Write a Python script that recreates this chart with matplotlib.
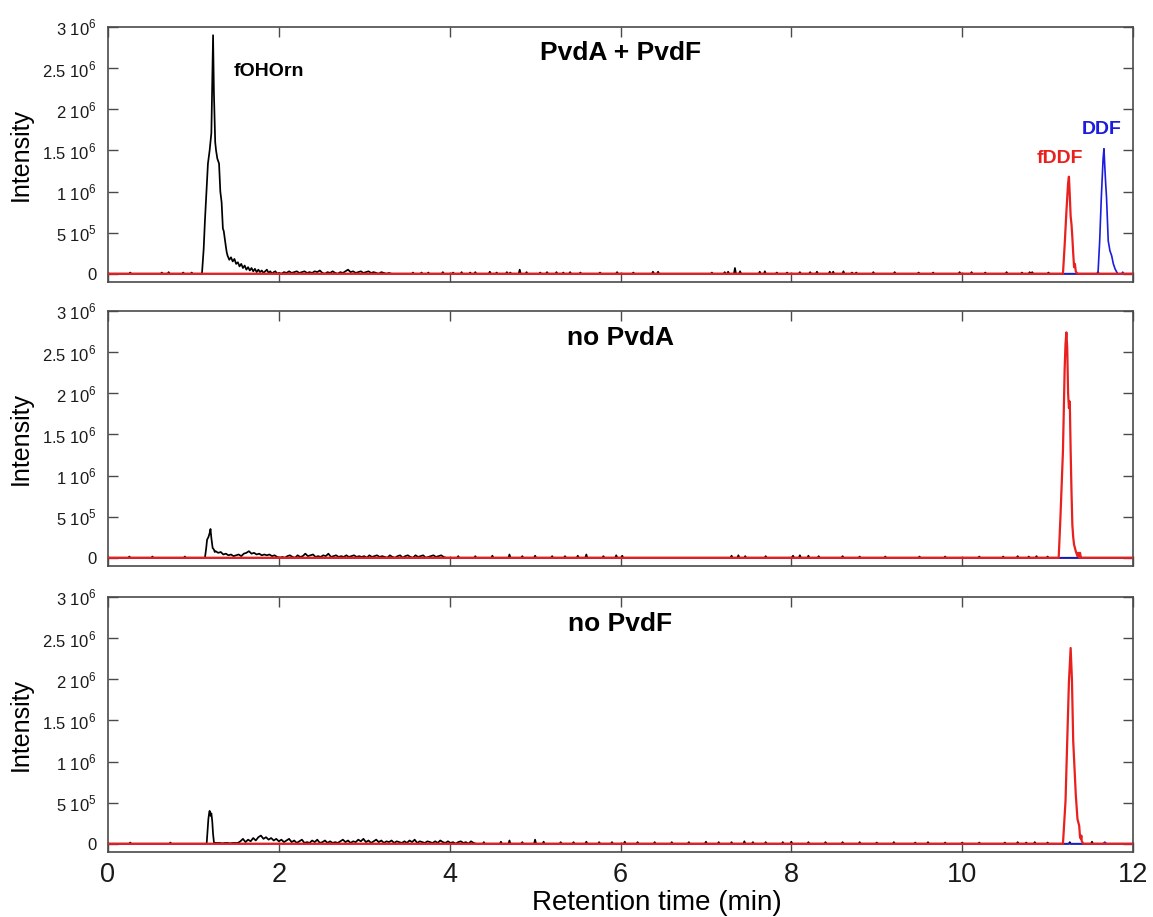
import numpy as np
import matplotlib
matplotlib.use("Agg")
import matplotlib.pyplot as plt

plt.rcParams['font.family'] = ['Liberation Sans', 'DejaVu Sans']
plt.rcParams['mathtext.fontset'] = 'custom'
plt.rcParams['mathtext.rm'] = 'Liberation Sans'

UNIT = 1e4  # intensity arrays below are in units of 1e4 counts

panel_titles = ["PvdA + PvdF", "no PvdA", "no PvdF"]
xticks = [0, 2, 4, 6, 8, 10, 12]
yticks = [0, 5e5, 1e6, 1.5e6, 2e6, 2.5e6, 3e6]
ytick_labels = ["0", r"5 10$^{\mathregular{5}}$", r"1 10$^{\mathregular{6}}$",
                r"1.5 10$^{\mathregular{6}}$", r"2 10$^{\mathregular{6}}$",
                r"2.5 10$^{\mathregular{6}}$", r"3 10$^{\mathregular{6}}$"]

# ---------------- Panel 1: PvdA + PvdF ----------------
p1_black_peak_t = [1.08, 1.10, 1.12, 1.135, 1.15, 1.17, 1.19, 1.21, 1.22, 1.23, 1.24,
                   1.255, 1.265, 1.28, 1.30, 1.315, 1.33, 1.345, 1.355, 1.37, 1.38, 1.39]
p1_black_peak_i = [0, 0, 30, 65, 95, 134, 150, 171, 230, 290, 220,
                   160, 150, 140, 134, 100, 87, 55, 52, 40, 33, 26]
p1_noise_start, p1_noise_step = 1.40, 0.02
p1_noise_i = [22, 17, 20, 15, 18, 12, 14, 9, 12, 7, 10, 5, 8, 4, 7, 3, 6, 2, 5, 2,
              4, 1, 3, 5, 1, 3, 0, 2, 3, 0]
p1_noise2_start, p1_noise2_step = 2.00, 0.03
p1_noise2_i = [1, 0, 2, 1, 3, 1, 2, 3, 1, 2, 3, 1, 2, 1, 3, 2, 4, 1, 0, 2, 1, 3, 1, 0,
               2, 1, 3, 5, 2, 3, 1, 2, 3, 1, 2, 3, 1, 2, 1, 0, 2, 1, 0, 1, 0]
p1_spike_t = [0.26, 0.63, 0.71, 0.88, 0.98, 3.57, 3.67, 3.75, 3.92, 4.04, 4.14, 4.24,
              4.30, 4.47, 4.55, 4.67, 4.71, 4.82, 4.90, 5.06, 5.14, 5.25, 5.33, 5.41,
              5.53, 5.76, 5.96, 6.15, 6.38, 6.44, 7.07, 7.22, 7.26, 7.34, 7.40, 7.63,
              7.69, 7.83, 7.95, 8.10, 8.22, 8.30, 8.45, 8.49, 8.61, 8.71, 8.76, 8.96,
              9.21, 9.49, 9.66, 9.97, 10.11, 10.27, 10.52, 10.70, 10.79, 10.82, 11.01, 11.59]
p1_spike_i = [1.5, 1.5, 2, 1.5, 1.5, 1.5, 1.5, 1.5, 2, 1.5, 2, 1.5,
              2, 2.5, 1.5, 2, 1.5, 5, 2, 1.5, 2, 2, 1.5, 2,
              1.5, 1.5, 2, 1.5, 2.5, 2.5, 1.5, 2, 2.5, 7, 3, 2.5,
              3, 1.5, 1.5, 2, 2, 2.5, 2.5, 2.5, 3, 1.5, 1.5, 2,
              2, 1.5, 1.5, 2, 2, 1.5, 2, 1.5, 2, 2, 1.5, 2]
p1_red_t = [0, 11.18, 11.20, 11.22, 11.24, 11.25, 11.26, 11.27, 11.28, 11.29, 11.30,
            11.31, 11.32, 11.33, 11.34, 11.36, 12]
p1_red_i = [0, 0, 35, 75, 110, 118, 95, 70, 60, 44, 25, 8, 12, 3, 1, 0, 0]
p1_blue_t = [0, 11.59, 11.61, 11.63, 11.65, 11.66, 11.67, 11.68, 11.69, 11.71, 11.73,
             11.75, 11.77, 11.79, 11.81, 11.82, 11.87, 11.88, 11.89, 12]
p1_blue_i = [0, 0, 40, 95, 140, 152, 130, 110, 93, 40, 28, 22, 12, 6, 2, 0, 0, 2, 0, 0]

# ---------------- Panel 2: no PvdA ----------------
p2_black_peak_t = [1.12, 1.135, 1.15, 1.16, 1.175, 1.19, 1.20, 1.21, 1.225, 1.24, 1.25]
p2_black_peak_i = [0, 0, 12, 22, 25, 30, 35, 24, 12, 10, 7]
p2_noise_start, p2_noise_step = 1.26, 0.03
p2_noise_i = [8, 6, 7, 4, 5, 3, 4, 2, 3, 4, 2, 5, 6, 8, 5, 6, 4, 5, 3, 4, 3, 4, 2, 3, 1,
              0, 1, 0, 2, 3, 1, 0, 3, 1, 2, 5, 2, 3, 4, 1, 2, 1, 3, 2, 5, 1, 2, 3, 1, 2,
              1, 3, 1, 2, 3, 1, 2, 1, 2, 0, 3, 1, 2, 3, 1, 2, 1, 0, 3, 1, 0, 2, 3, 0, 2,
              3, 1, 0, 3, 1, 2, 3, 0, 1, 2, 3, 1, 2, 3, 1, 0]
p2_spike_t = [0.25, 0.52, 0.90, 4.10, 4.30, 4.50, 4.70, 4.85, 5.00, 5.20, 5.35, 5.50,
              5.60, 5.80, 5.95, 6.02, 7.30, 7.38, 7.46, 7.70, 8.02, 8.10, 8.20, 8.32,
              8.60, 8.80, 9.10, 9.50, 9.80, 10.20, 10.48, 10.65, 10.78, 10.87, 11.00]
p2_spike_i = [1.5, 1.5, 1.5, 2, 2, 2.5, 4, 2, 2.5, 2, 2, 2.5,
              4, 2, 3, 2.5, 2.5, 3, 2, 2, 2.5, 3, 2.5, 2,
              2, 1.5, 1.5, 1.5, 1.5, 1.5, 1.5, 2, 1.5, 2, 1.5]
p2_red_t = [0, 11.13, 11.15, 11.18, 11.20, 11.21, 11.22, 11.23, 11.24, 11.25, 11.26,
            11.27, 11.28, 11.29, 11.30, 11.31, 11.32, 11.33, 11.34, 11.35, 11.36, 11.37,
            11.38, 11.39, 11.40, 12]
p2_red_i = [0, 0, 48, 130, 230, 260, 274, 255, 200, 182, 190,
            130, 80, 40, 25, 16, 12, 8, 5, 2, 6, 0,
            6, 0, 0, 0]
p2_blue_t = [0, 12]
p2_blue_i = [0, 0]

# ---------------- Panel 3: no PvdF ----------------
p3_black_peak_t = [1.14, 1.155, 1.165, 1.175, 1.185, 1.19, 1.20, 1.21, 1.22, 1.23, 1.24, 1.25]
p3_black_peak_i = [0, 0, 15, 30, 38, 40, 34, 37, 28, 12, 2, 0]
p3_noise_start, p3_noise_step = 1.25, 0.03
p3_noise_i = [1, 1, 1, 0.5, 1, 1, 0.5, 1, 1, 1, 3, 6, 2, 5, 3, 7, 4, 8, 10, 6,
              8, 5, 7, 4, 6, 3, 5, 2, 4, 6, 2, 4, 1, 3, 5, 1, 2, 1, 4, 2,
              5, 1, 2, 4, 1, 3, 1, 2, 1, 3, 5, 2, 4, 1, 3, 2, 5, 3, 6, 2,
              4, 1, 3, 5, 2, 4, 1, 3, 2, 4, 1, 3, 2, 1, 3, 1, 4, 2, 5, 1,
              3, 2, 1, 3, 2, 1, 3, 1, 4, 2, 1, 3, 1, 2, 0, 2, 3, 1, 2, 0,
              3, 1, 0]
p3_spike_t = [0.26, 0.73, 4.40, 4.60, 4.70, 4.85, 5.00, 5.10, 5.30, 5.45, 5.60, 5.75,
              5.90, 6.05, 6.20, 6.40, 6.60, 6.80, 7.00, 7.15, 7.30, 7.45, 7.55, 7.70,
              7.90, 8.00, 8.20, 8.40, 8.60, 8.80, 9.00, 9.20, 9.45, 9.60, 9.80, 10.00,
              10.20, 10.50, 10.65, 10.75, 10.85, 11.00, 11.26, 11.52]
p3_spike_i = [1.5, 1.5, 2, 2.5, 4, 2, 5, 2.5, 2, 2, 2.5, 2,
              2, 2.5, 2, 2, 2, 2, 2.5, 2, 2, 3, 2, 2,
              2, 2.5, 2, 2, 2, 2, 1.5, 2, 1.5, 2, 1.5, 1.5,
              1.5, 1.5, 2, 1.5, 2, 1.5, 2, 2.5]
p3_red_t = [0, 11.18, 11.21, 11.23, 11.25, 11.27, 11.285, 11.30, 11.33, 11.35, 11.37,
            11.38, 11.39, 11.395, 11.40, 11.42, 12]
p3_red_i = [0, 0, 52, 125, 197, 238, 200, 125, 60, 30, 22, 8, 6, 10, 3, 0, 0]
p3_blue_t = [0, 11.65, 11.67, 11.69, 12]
p3_blue_i = [0, 0, 2, 0, 0]

panels = [
    dict(peak=(p1_black_peak_t, p1_black_peak_i),
         noise=[(p1_noise_start, p1_noise_step, p1_noise_i), (p1_noise2_start, p1_noise2_step, p1_noise2_i)],
         spikes=(p1_spike_t, p1_spike_i), red=(p1_red_t, p1_red_i), blue=(p1_blue_t, p1_blue_i)),
    dict(peak=(p2_black_peak_t, p2_black_peak_i),
         noise=[(p2_noise_start, p2_noise_step, p2_noise_i)],
         spikes=(p2_spike_t, p2_spike_i), red=(p2_red_t, p2_red_i), blue=(p2_blue_t, p2_blue_i)),
    dict(peak=(p3_black_peak_t, p3_black_peak_i),
         noise=[(p3_noise_start, p3_noise_step, p3_noise_i)],
         spikes=(p3_spike_t, p3_spike_i), red=(p3_red_t, p3_red_i), blue=(p3_blue_t, p3_blue_i)),
]


def black_trace(p):
    ts = [0.0, 12.0]
    vs = [0.0, 0.0]
    ts += list(p['peak'][0]); vs += list(p['peak'][1])
    for start, step, vals in p['noise']:
        ts += list(start + step * np.arange(len(vals)))
        vs += list(vals)
    w = 0.012
    for t, h in zip(*p['spikes']):
        ts += [t - w, t, t + w]
        vs += [0, h, 0]
    order = np.argsort(ts, kind='stable')
    return np.asarray(ts)[order], np.asarray(vs, dtype=float)[order] * UNIT


RED = '#e8201e'
BLUE = '#1c1ce0'
SPINE = '#4a4a4a'

fig = plt.figure(figsize=(11.53, 9.17), dpi=100)
left, width = 108 / 1153, (1133 - 108) / 1153
tops = [27, 311, 597]
h_px = 255
axes = []
for k, top in enumerate(tops):
    ax = fig.add_axes([left, 1 - (top + h_px) / 917, width, h_px / 917])
    axes.append(ax)
    p = panels[k]
    bt, bv = black_trace(p)
    ax.plot(bt, bv, color='black', lw=1.25, zorder=2)
    ax.plot(p['blue'][0], np.asarray(p['blue'][1], float) * UNIT, color=BLUE, lw=1.2, zorder=3)
    ax.plot(p['red'][0], np.asarray(p['red'][1], float) * UNIT, color=RED, lw=1.6, zorder=4)
    ax.set_xlim(0, 12)
    ax.set_ylim(-1e5, 3e6)
    ax.set_xticks(xticks)
    ax.set_yticks(yticks)
    ax.set_yticklabels(ytick_labels, fontsize=12)
    ax.tick_params(direction='in', length=7, width=1, colors=SPINE, top=True, right=True,
                   labelcolor='#1a1a1a', pad=8)
    ax.tick_params(axis='x', labelsize=19.5, pad=7)
    if k < 2:
        ax.set_xticklabels([])
    for s in ax.spines.values():
        s.set_color(SPINE)
        s.set_linewidth(1.2)
    ax.set_ylabel("Intensity", fontsize=18)
    ax.yaxis.set_label_coords(-0.073, 0.5)
    ax.text(0.5, 0.9 if k == 0 else 0.896, panel_titles[k], transform=ax.transAxes,
            ha='center', va='center', fontsize=19, fontweight='bold')

axes[0].text(1.88, 2.46e6, "fOHOrn", ha='center', va='center', fontsize=14, fontweight='bold')
axes[0].text(11.14, 1.40e6, "fDDF", ha='center', va='center', fontsize=14, fontweight='bold', color=RED)
axes[0].text(11.63, 1.76e6, "DDF", ha='center', va='center', fontsize=14, fontweight='bold', color=BLUE)
fig.text(657 / 1153, 1 - 910 / 917, "Retention time (min)", ha='center', va='baseline',
         fontsize=20)

fig.savefig("out.png", dpi=100)
